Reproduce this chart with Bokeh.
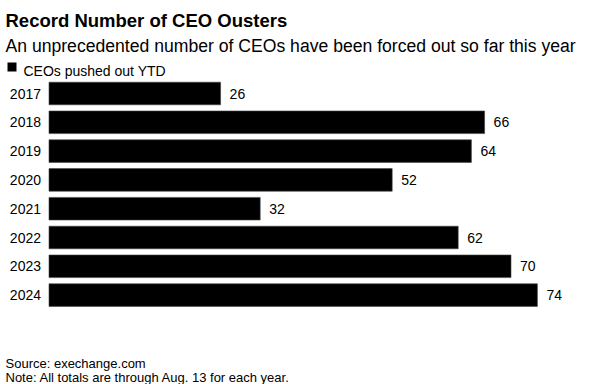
from bokeh.plotting import figure
from bokeh.models import Range1d, ColumnDataSource
from bokeh.core.properties import value
from bokeh.embed import file_html
from bokeh.resources import INLINE

# ---- data ----
years = ["2017", "2018", "2019", "2020", "2021", "2022", "2023", "2024"]
ousters = [26, 66, 64, 52, 32, 62, 70, 74]
title = "Record Number of CEO Ousters"
subtitle = "An unprecedented number of CEOs have been forced out so far this year"
legend_label = "CEOs pushed out YTD"
source_note = "Source: exechange.com"
note = "Note: All totals are through Aug. 13 for each year."

# ---- layout constants (pixels) ----
W, H = 595, 384
PX = 6.6          # pixels per unit
X0 = 48.5         # pixel of x = 0
Y0 = 93.0         # pixel of first row centre
PITCH = 28.8      # row pitch in pixels
FONT = "Liberation Sans"


def fx(px):
    return (px - X0) / PX


def fy(py):
    return (py - Y0) / PITCH


p = figure(width=W, height=H, output_backend="svg", toolbar_location=None,
           x_range=Range1d(fx(0), fx(W)), y_range=Range1d(fy(H), fy(0)),
           min_border=0)
p.axis.visible = False
p.grid.visible = False
p.outline_line_color = None
p.background_fill_color = "white"
p.border_fill_color = "white"

idx = list(range(len(years)))
src = ColumnDataSource(dict(y=idx, v=ousters, year=years,
                            lab=[str(v) for v in ousters]))

p.hbar(y="y", left=0, right="v", height=0.785, source=src,
       fill_color="black", line_color="#444444", line_width=0.6)

p.text(x=0, y="y", text="year", source=src, x_offset=-8,
       text_align="right", text_baseline="middle",
       text_font=value(FONT), text_font_size="14px", text_color="black")
p.text(x="v", y="y", text="lab", source=src, x_offset=9,
       text_align="left", text_baseline="middle",
       text_font=value(FONT), text_font_size="14px", text_color="black")

# titles
p.text(x=[fx(5)], y=[fy(20)], text=[title], text_font=value(FONT),
       text_font_size="18.5px", text_font_style="bold",
       text_baseline="alphabetic", text_color="black")
p.text(x=[fx(5)], y=[fy(45)], text=[subtitle], text_font=value(FONT),
       text_font_size="17.6px", text_baseline="alphabetic", text_color="black")

# legend
p.rect(x=[fx(11.5)], y=[fy(66.5)], width=9 / PX, height=9 / PITCH,
       fill_color="black", line_color=None)
p.text(x=[fx(23)], y=[fy(70.5)], text=[legend_label], text_font=value(FONT),
       text_font_size="14px", text_baseline="alphabetic", text_color="black")

# footer
p.text(x=[fx(5)], y=[fy(363)], text=[source_note], text_font=value(FONT),
       text_font_size="13px", text_baseline="alphabetic", text_color="black")
p.text(x=[fx(5)], y=[fy(377)], text=[note], text_font=value(FONT),
       text_font_size="13px", text_baseline="alphabetic", text_color="black")

open("out.html", "w").write(file_html(p, INLINE))
